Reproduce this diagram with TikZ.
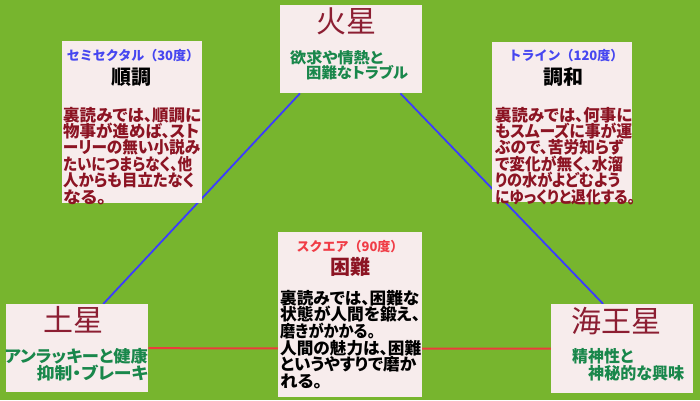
\documentclass[tikz,border=0pt]{standalone}
\usepackage{fontspec}
\newfontfamily\jp[RawFeature=+palt]{Noto Sans CJK JP}
\newfontfamily\jpf{Noto Sans CJK JP}
\definecolor{bgg}{RGB}{119,181,46}
\definecolor{boxc}{RGB}{247,236,236}
\definecolor{titred}{RGB}{140,30,50}
\definecolor{grn}{RGB}{25,135,75}
\definecolor{bred}{RGB}{140,20,35}
\definecolor{sblue}{RGB}{70,70,240}
\definecolor{sred}{RGB}{240,60,70}
\definecolor{lblue}{RGB}{60,60,255}
\definecolor{lred}{RGB}{235,60,60}
\newlength\fitl
\newcommand\fitw[2]{\settowidth\fitl{#2}\pgfmathsetmacro\fitr{#1pt/\fitl}\scalebox{\fitr}[1]{#2}}
\pgfdeclarelayer{bgl}\pgfdeclarelayer{lines}\pgfsetlayers{bgl,lines,main}
\begin{document}
\begin{tikzpicture}[x=1pt,y=-1pt,
  box/.style={fill=boxc,draw=none,inner sep=0pt,anchor=north west},
  title/.style={inner sep=0pt,font=\jpf\fontsize{30}{32}\selectfont,text=titred,text height=26pt,text depth=4pt},
  body/.style={inner sep=0pt,anchor=west,font=\jp\bfseries\fontsize{16.5}{18}\selectfont,text=bred,text height=13.5pt,text depth=1.5pt},
  gtxt/.style={body,text=grn,text height=12.5pt,text depth=0.5pt},
  mtxt/.style={gtxt,font=\jp\bfseries\fontsize{15}{16}\selectfont,text height=11.5pt,text depth=0.5pt},
  subh/.style={inner sep=0pt,font=\jpf\bfseries\fontsize{13}{15}\selectfont,text height=11.5pt,text depth=1.5pt},
  head/.style={inner sep=0pt,font=\jp\bfseries\fontsize{20}{22}\selectfont,text=black,text height=17.5pt,text depth=2.5pt},
  blueline/.style={draw=lblue,line width=1.8pt},
  redline/.style={draw=lred,line width=2pt}]
\begin{pgfonlayer}{bgl}
\fill[bgg] (0,0) rectangle (700,400);
\end{pgfonlayer}
\useasboundingbox (0,0) rectangle (700,400);
% boxes
\node[box,minimum width=142pt,minimum height=88pt] (mars) at (280,5) {};
\node[box,minimum width=140pt,minimum height=162pt] (semi) at (62,41) {};
\node[box,minimum width=140pt,minimum height=160pt] (trine) at (492,42) {};
\node[box,minimum width=144pt,minimum height=165pt] (square) at (278,232) {};
\node[box,minimum width=142pt,minimum height=88pt] (saturn) at (6,304) {};
\node[box,minimum width=142pt,minimum height=89pt] (neptune) at (551,304) {};
% connectors
\begin{pgfonlayer}{lines}
\draw[blueline] ([xshift=20pt]mars.south west) -- ([xshift=26pt]saturn.north);
\draw[blueline] ([xshift=-22pt]mars.south east) -- ([xshift=-19pt]neptune.north);
\draw[redline] (saturn.east) -- (neptune.west);
\end{pgfonlayer}
% Mars
\node[title] (marsT) at (346,21) {火星};
\node[mtxt] (marsA) at (290,57.5) {\fitw{93}{欲求や情熱と}};
\node[mtxt] (marsB) at (306,72.5) {\fitw{102}{困難なトラブル}};
% semisextile
\node[subh,text=sblue] (semiS) at (133,55) {セミセクタル（30度）};
\node[head] (semiH) at (131,77) {順調};
\foreach \t/\w [count=\i] in {裏読みでは、順調に/138,物事が進めば、スト/136,ーリーの無い小説み/137,たいにつまらなく、他/129,人からも目立たなく/131,なる。/43}
  \node[body] (semiB\i) at (63,{115+(\i-1)*16.4}) {\fitw{\w}{\t}};
% trine
\node[subh,text=sblue] (trineS) at (566,55) {トライン（120度）};
\node[head] (trineH) at (563,77) {調和};
\foreach \t/\w [count=\i] in {裏読みでは、何事に/137,もスムーズに事が運/137,ぶので、苦労知らず/128,で変化が無く、水溜/128,りの水がよどむよう/125,にゆっくりと退化する。/140}
  \node[body] (trineB\i) at (495,{115+(\i-1)*16.4}) {\fitw{\w}{\t}};
% square
\node[subh,text=sred] (squareS) at (350,246) {スクエア（90度）};
\node[head,text=bred] (squareH) at (350,267) {困難};
\foreach \t/\w [count=\i] in {裏読みでは、困難な/139,状態が人間を鍛え、/140,磨きがかかる。/95,人間の魅力は、困難/141,というやすりで磨か/136,れる。/42}
  \node[body,text=black] (squareB\i) at (280,{298+(\i-1)*16.7}) {\fitw{\w}{\t}};
% Saturn
\node[title] (satT) at (73,320) {土星};
\node[gtxt,anchor=east] (satA) at (148,356) {\fitw{143}{アンラッキーと健康}};
\node[gtxt,anchor=east] (satB) at (148,373) {\fitw{111}{抑制・ブレーキ}};
% Neptune
\node[title] (nepT) at (616,321) {海王星};
\node[gtxt] (nepA) at (572,356) {\fitw{61}{精神性と}};
\node[gtxt] (nepB) at (588,373) {\fitw{96}{神秘的な興味}};
\end{tikzpicture}
\end{document}
